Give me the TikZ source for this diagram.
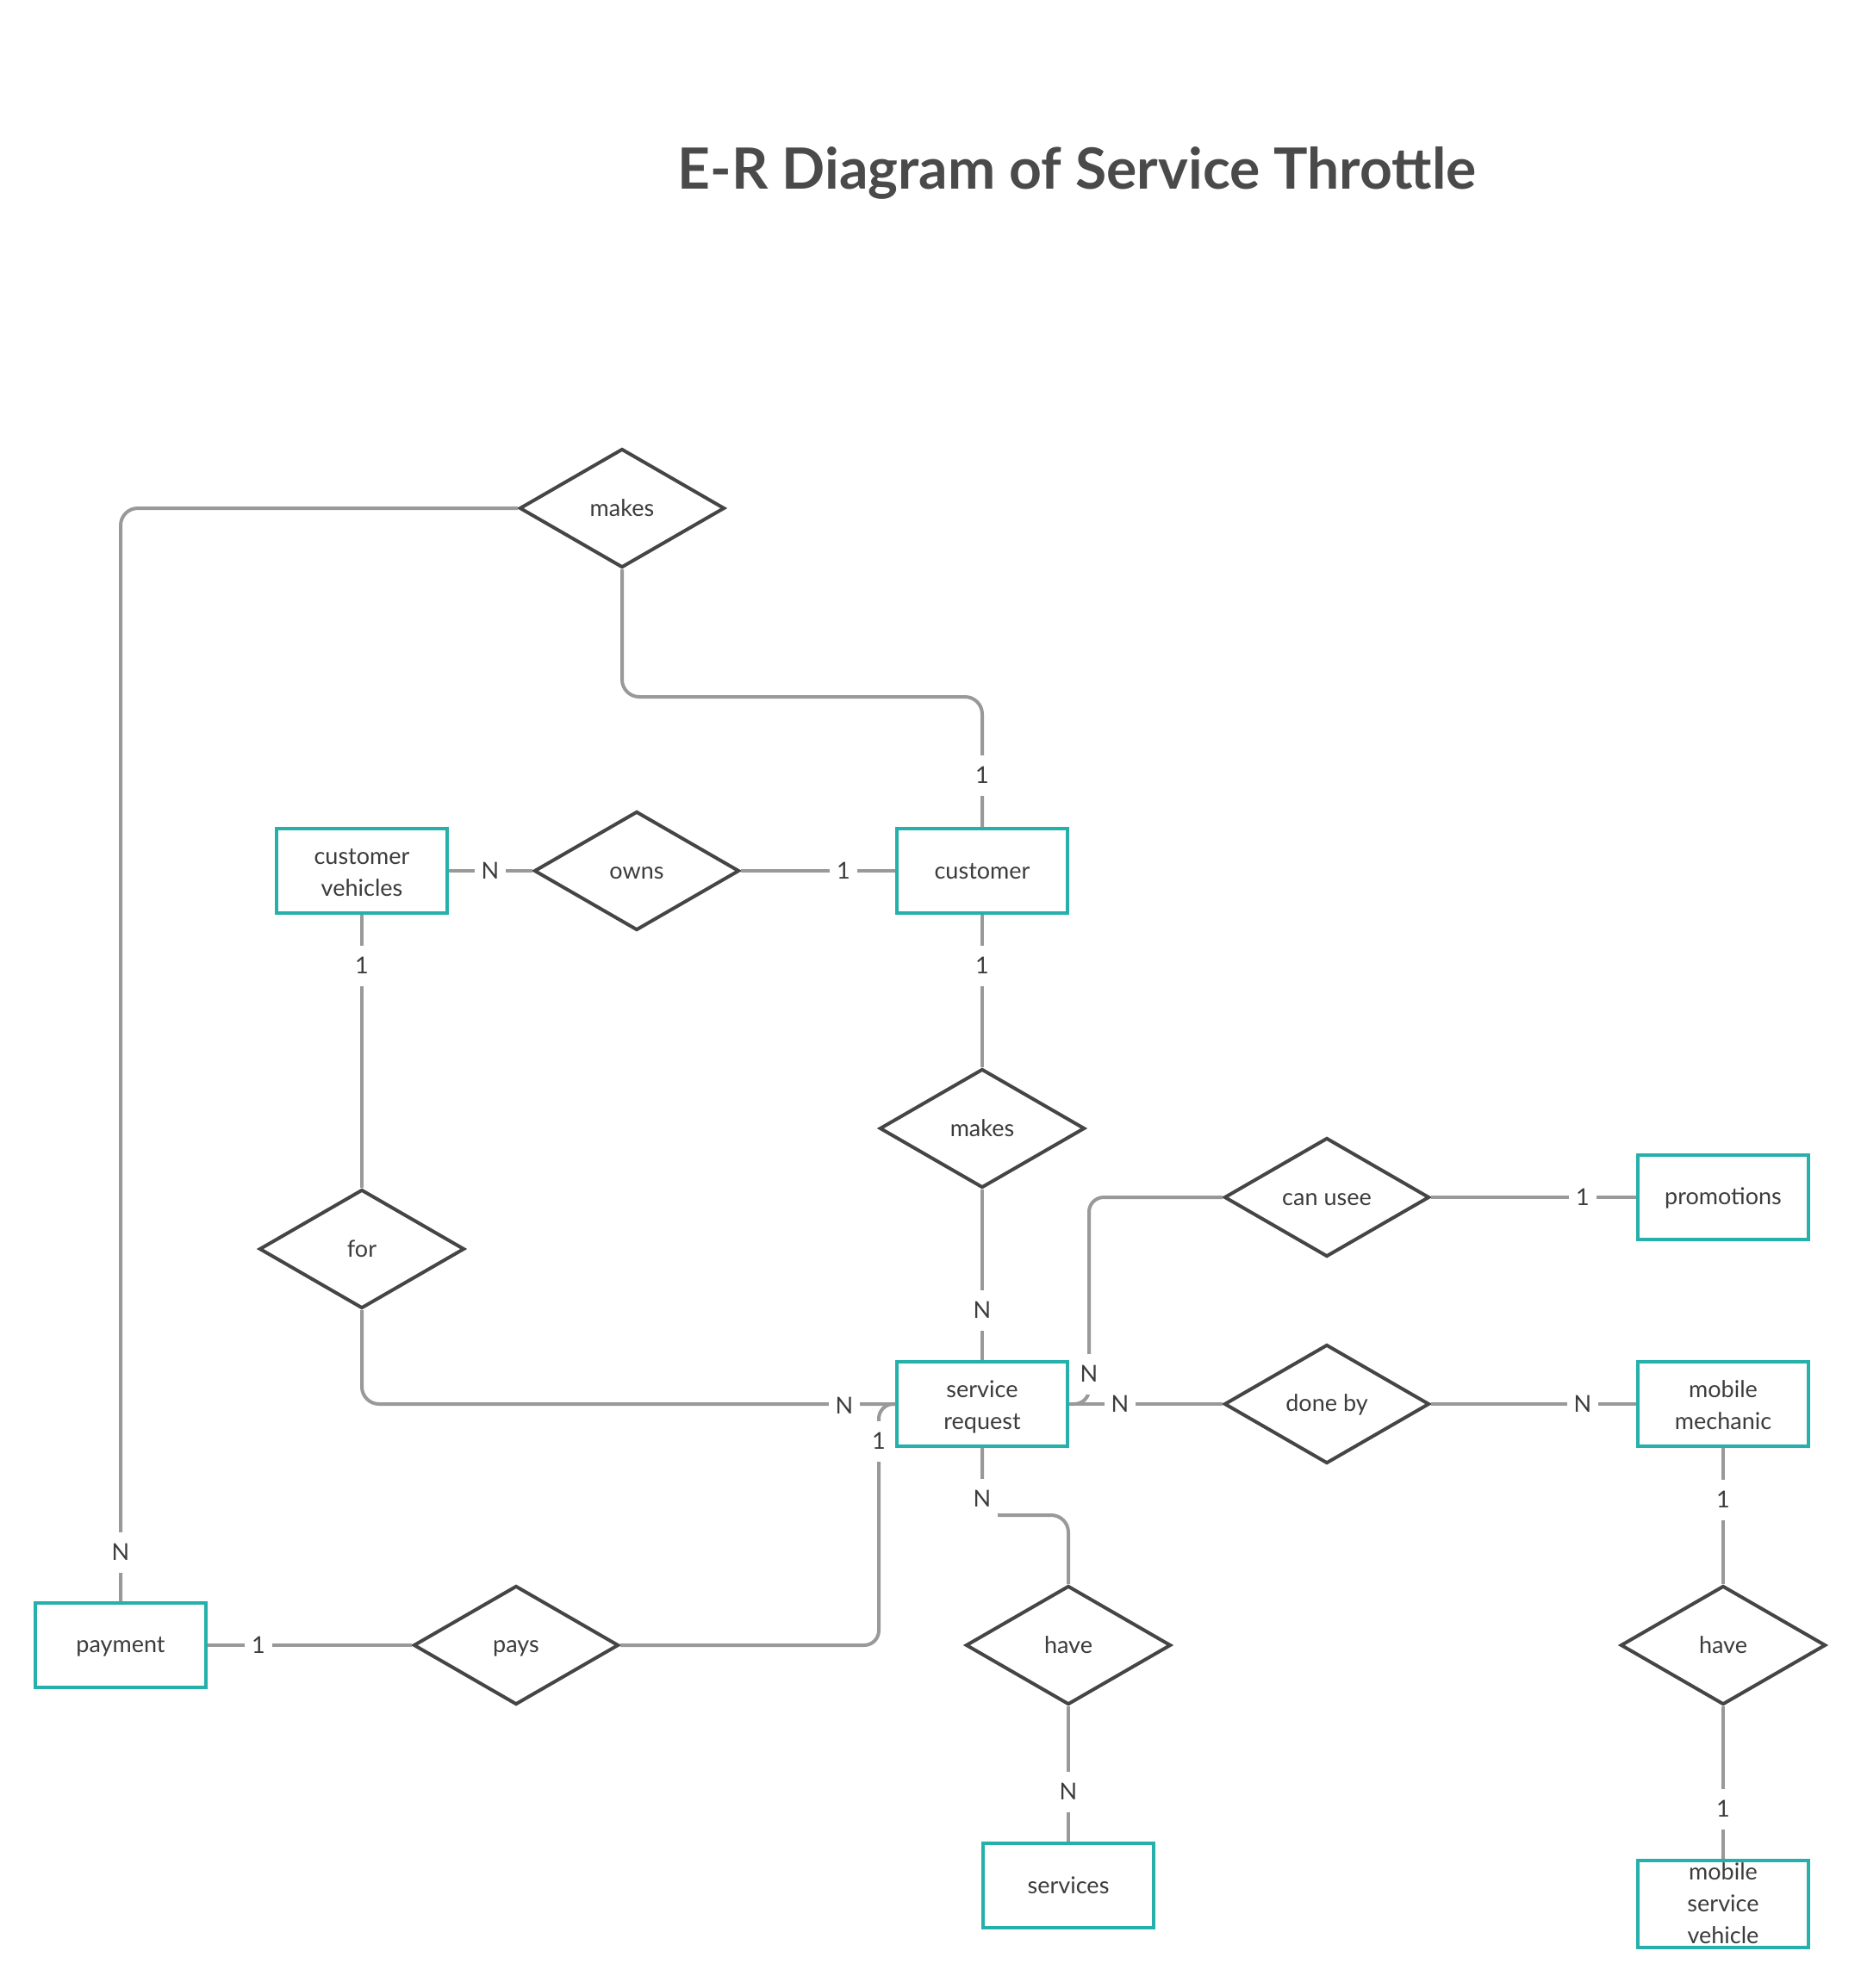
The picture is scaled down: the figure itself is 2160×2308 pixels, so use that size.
\documentclass[tikz,border=0pt]{standalone}
\usepackage{fontspec}
\setmainfont{Lato}
\usetikzlibrary{shapes.geometric,calc}
\definecolor{teal1}{HTML}{26B0AB}
\definecolor{dia}{HTML}{454545}
\definecolor{lnk}{HTML}{999999}
\definecolor{txt}{HTML}{3C3C3C}
\definecolor{ttl}{HTML}{4A4A4A}
\newcommand{\erstrut}{\rule[-4pt]{0pt}{26pt}}
\newcommand{\toprule}{\rule{0pt}{26pt}}
\begin{document}
\begin{tikzpicture}[x=1pt,y=-1pt,
  every node/.style={font=\fontsize{27}{37}\selectfont, text=txt},
  shapetext/.style={execute at begin node=\erstrut, execute at end node=\erstrut},
  entity/.style={shapetext, draw=teal1, line width=4pt, rectangle, minimum width=198pt, minimum height=98pt, align=center, fill=white, inner sep=0pt},
  nostrut/.style={execute at begin node={}, execute at end node={}},
  rel/.style={shapetext, draw=dia, line width=4pt, diamond, minimum width=238pt, minimum height=138pt, fill=white, inner sep=0pt},
  link/.style={draw=lnk, line width=4pt, rounded corners=20pt},
  card/.style={fill=white, inner xsep=8pt, inner ysep=11pt, text height=22pt, text depth=3pt}
]
\useasboundingbox (0,0) rectangle (2160,2308);
\fill[white] (0,0) rectangle (2160,2308);

\node[anchor=base, font=\fontsize{66}{80}\selectfont\bfseries, text=ttl] (title) at (1250,219) {E-R Diagram of Service Throttle};

% entities
\node[entity] (cust) at (1140,1011) {customer};
\node[entity] (cv) at (420,1011) {\toprule customer\\vehicles};
\node[entity] (promo) at (2000,1390) {promotions};
\node[entity] (sr) at (1140,1630) {\toprule service\\request};
\node[entity] (mm) at (2000,1630) {\toprule mobile\\mechanic};
\node[entity] (pay) at (140,1910) {payment};
\node[entity] (services) at (1240,2189) {services};
\node[entity, nostrut] (msv) at (2000,2210) {\rule{0pt}{23pt}mobile\\service\\vehicle};

% relationships
\node[rel] (mk1) at (722,590) {makes};
\node[rel] (owns) at (739,1011) {owns};
\node[rel] (mk2) at (1140,1310) {makes};
\node[rel] (for) at (420,1450) {for};
\node[rel] (canusee) at (1540,1390) {can usee};
\node[rel] (doneby) at (1540,1630) {done by};
\node[rel] (pays) at (599,1910) {pays};
\node[rel] (have1) at (1240,1910) {have};
\node[rel] (have2) at (2000,1910) {have};

% connectors
\draw[link] (mk1.west) -| (pay.north);
\draw[link] (mk1.south) -- ++(0,148) -| (cust.north);
\draw[link] (cv.east) -- (owns.west);
\draw[link] (owns.east) -- (cust.west);
\draw[link] (cv.south) -- (for.north);
\draw[link] (cust.south) -- (mk2.north);
\draw[link] (mk2.south) -- (sr.north);
\draw[link] (for.south) |- (sr.west);
\draw[link, rounded corners=17pt] (pays.east) -| ($(sr.west)+(-19,0)$) -- (sr.west);
\draw[link, rounded corners=17pt] (canusee.west) -| ($(sr.east)+(23,0)$) -- (sr.east);
\draw[link] (sr.east) -- (doneby.west);
\draw[link] (canusee.east) -- (promo.west);
\draw[link] (doneby.east) -- (mm.west);
\draw[link] (mm.south) -- (have2.north);
\draw[link] (have2.south) -- (msv.north);
\draw[link] (sr.south) -- ++(0,78) -| (have1.north);
\draw[link] (have1.south) -- (services.north);
\draw[link] (pay.east) -- (pays.west);

% cardinalities
\node[card] (l1) at (140,1802) {N};
\node[card] (l2) at (1140,900) {1};
\node[card] (l3) at (569,1011) {N};
\node[card] (l4) at (979,1011) {1};
\node[card] (l5) at (420,1121) {1};
\node[card] (l6) at (1140,1121) {1};
\node[card] (l7) at (1140,1521) {N};
\node[card] (l8) at (980,1632) {N};
\node[card] (l9) at (1020,1673) {1};
\node[card] (l10) at (1264,1595) {N};
\node[card] (l11) at (1300,1630) {N};
\node[card] (l12) at (1837,1390) {1};
\node[card] (l13) at (1837,1630) {N};
\node[card] (l14) at (2000,1741) {1};
\node[card] (l15) at (2000,2100) {1};
\node[card] (l16) at (1140,1740) {N};
\node[card] (l17) at (1240,2080) {N};
\node[card] (l18) at (300,1910) {1};
\end{tikzpicture}
\end{document}
